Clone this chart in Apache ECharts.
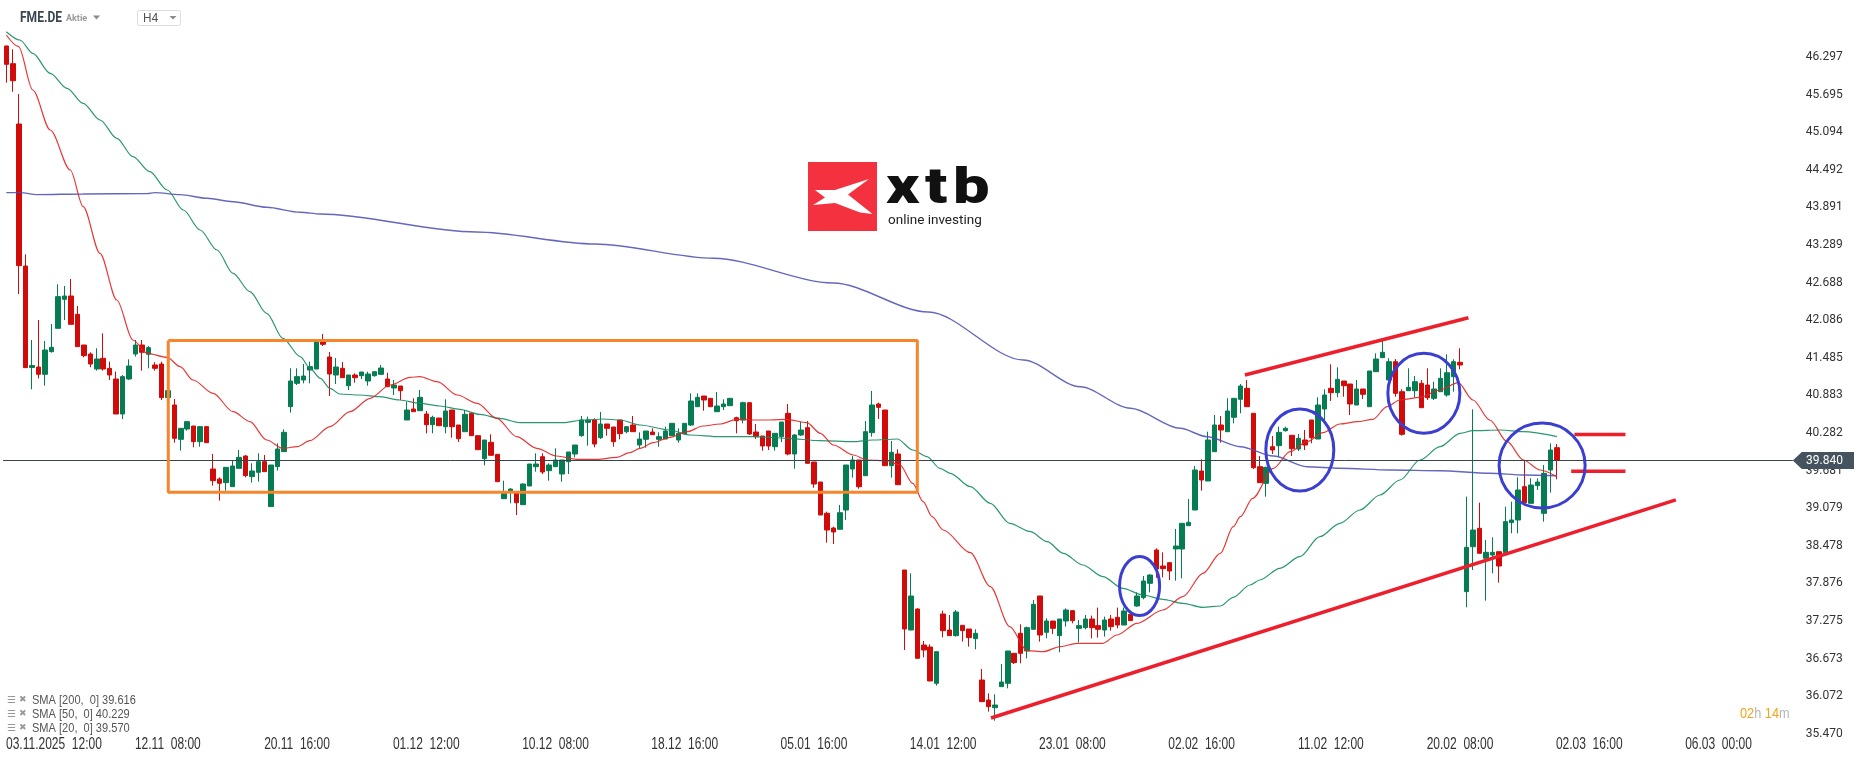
<!DOCTYPE html>
<html><head><meta charset="utf-8">
<script src="https://cdn.jsdelivr.net/npm/echarts@6/dist/echarts.min.js"></script>
<style>html,body{margin:0;padding:0;background:#fff;}#c{width:1866px;height:761px;}</style>
</head><body><div id="c"></div>
<script>
// ---------- DATA ----------
const opens = [46.473,46.19,45.225,42.953,41.33,41.337,41.22,41.583,41.956,42.42,42.473,42.18,41.689,41.545,41.305,41.476,41.316,41.145,40.585,41.145,41.545,41.689,41.54,41.369,41.385,40.847,40.729,40.18,40.345,40.393,40.143,40.383,39.705,39.545,39.487,39.423,39.716,39.913,39.583,39.652,39.823,39.103,39.743,39.983,40.703,41.076,41.129,41.289,41.305,41.737,41.497,41.209,41.316,41.038,41.209,41.198,41.113,41.198,41.22,41.145,41.001,41.033,40.489,40.665,40.638,40.585,40.414,40.521,40.382,40.649,40.409,40.302,40.596,40.238,39.87,40.132,39.94,39.23,39.342,39.332,39.134,39.433,39.742,39.902,39.678,39.742,39.625,39.822,39.945,40.238,40.452,40.489,40.206,40.425,40.377,40.489,40.302,40.409,40.089,40.18,40.297,40.18,40.185,40.238,40.169,40.265,40.409,40.702,40.873,40.836,40.622,40.702,40.718,40.526,40.489,40.766,40.297,40.233,40.313,40.062,40.222,40.596,39.945,40.249,40.366,39.817,39.497,38.996,38.761,38.74,39.049,39.705,39.849,39.598,40.286,40.745,40.649,39.758,39.945,38.089,37.129,37.465,36.889,36.857,36.276,37.385,37.129,37.039,37.204,37.145,36.991,36.329,36.009,35.886,36.223,36.276,36.756,37.076,36.793,37.14,37.673,37.092,37.273,37.039,37.273,37.439,37.156,37.167,37.305,37.199,37.129,37.305,37.332,37.209,37.38,37.513,37.647,37.876,38.409,38.153,38.207,38.425,38.425,38.798,39.049,39.673,39.513,39.982,40.409,40.302,40.532,40.82,40.996,40.596,39.742,39.476,40.062,40.078,40.318,40.244,40.025,40.169,40.489,40.185,40.665,40.996,40.926,41.113,41.065,40.729,40.985,40.702,41.262,41.487,41.129,41.422,40.942,40.958,40.958,41.076,41.049,40.836,40.942,40.889,41.182,41.412,37.743,38.462,38.756,38.276,38.329,38.382,38.366,38.847,38.889,39.422,39.156,39.439,38.996,39.689,40.046];
const closes = [46.18,45.918,42.959,41.327,41.36,41.22,41.609,41.652,42.463,42.473,42.02,41.663,41.519,41.385,41.465,41.305,41.209,40.585,41.183,41.353,41.689,41.572,41.647,41.316,40.847,40.959,40.196,40.356,40.463,40.143,40.383,40.126,39.519,39.476,39.732,39.753,39.892,39.599,39.673,39.823,39.663,39.769,40.025,40.292,41.113,41.183,41.193,41.343,41.742,41.7,41.225,41.337,41.166,41.209,41.166,41.257,41.225,41.262,41.321,41.022,41.049,40.958,40.649,40.622,40.852,40.414,40.532,40.398,40.633,40.382,40.19,40.58,40.238,40.014,40.169,39.924,39.502,39.316,39.385,39.166,39.465,39.785,39.785,39.657,39.769,39.849,39.849,39.977,40.089,40.489,40.489,40.105,40.425,40.356,40.142,40.27,40.382,40.302,40.185,40.313,40.254,40.222,40.313,40.436,40.276,40.436,40.793,40.852,40.809,40.702,40.713,40.745,40.836,40.478,40.766,40.265,40.222,40.073,40.073,40.276,40.457,39.945,40.249,40.329,39.796,39.465,38.969,38.729,38.697,39.006,39.769,39.849,39.422,40.302,40.729,40.692,39.758,39.972,39.454,37.145,37.673,36.676,36.809,36.313,36.782,37.119,37.039,37.417,37.119,37.007,37.076,35.983,35.903,35.929,36.297,36.793,36.607,36.756,37.167,37.54,37.049,37.273,37.156,37.305,37.449,37.279,37.199,37.305,37.167,37.14,37.289,37.183,37.209,37.433,37.279,37.673,37.913,38.009,38.105,38.111,38.073,38.473,38.836,38.852,39.689,39.529,40.169,40.409,40.329,40.633,40.836,41.033,40.702,39.726,39.486,39.732,40.009,40.292,40.356,40.03,40.196,40.089,40.206,40.729,40.889,40.926,41.14,41.038,40.745,40.985,40.9,41.273,41.465,41.572,41.422,40.916,40.26,41.012,41.102,40.686,40.846,40.985,41.156,41.246,41.422,41.369,38.452,38.729,38.356,38.372,38.372,38.153,38.863,38.889,39.369,39.166,39.449,39.497,39.636,40.009,39.84];
const lows = [45.886,45.742,42.505,41.32,40.98,41.156,41.039,41.567,41.956,42.089,42.02,41.663,41.492,41.332,41.279,41.279,41.129,40.585,40.505,41.129,41.503,41.279,41.316,41.279,40.809,40.84,40.126,39.999,40.318,40.052,40.063,40.126,39.439,39.199,39.359,39.423,39.716,39.572,39.487,39.503,39.663,39.103,39.679,39.983,40.607,41.049,41.076,41.076,41.305,41.673,40.873,41.065,41.166,40.969,41.086,41.145,41.038,41.182,41.209,41.022,40.889,40.809,40.489,40.622,40.638,40.276,40.276,40.398,40.276,40.206,40.137,40.302,40.238,40.014,39.764,39.924,39.502,39.23,39.156,38.969,39.134,39.433,39.663,39.625,39.518,39.742,39.502,39.625,39.892,40.222,40.078,40.052,40.185,40.238,40.062,40.18,40.276,40.302,40.036,40.046,40.254,40.062,40.185,40.238,40.126,40.265,40.393,40.702,40.638,40.702,40.622,40.649,40.718,40.276,40.436,40.249,40.185,39.998,40.009,39.998,40.137,39.924,39.71,40.233,39.796,39.406,38.969,38.526,38.505,38.74,38.889,39.566,39.39,39.598,40.222,40.505,39.758,39.566,39.454,36.809,37.129,36.676,36.692,36.313,36.239,37.012,37.039,37.023,36.943,36.863,36.82,35.983,35.823,35.679,36.223,36.196,36.585,36.596,36.676,37.14,36.943,36.996,37.065,36.772,37.183,37.236,36.932,37.14,36.996,37.007,37.023,37.119,37.156,37.209,37.279,37.502,37.62,37.732,37.966,37.972,37.929,37.919,37.956,38.798,39.049,39.359,39.513,39.982,40.126,40.302,40.436,40.596,40.702,39.705,39.486,39.262,39.945,39.902,40.302,39.913,39.993,40.009,40.116,40.185,40.489,40.793,40.852,40.862,40.569,40.729,40.825,40.702,41.262,41.487,41.129,40.862,40.238,40.958,40.852,40.686,40.809,40.809,40.942,40.862,40.942,41.3,37.492,38.089,38.356,37.599,38.036,37.887,38.366,38.676,38.676,39.166,39.156,39.369,38.862,39.327,39.54];
const highs = [46.48,46.42,45.705,43.14,41.769,42.089,41.753,42.025,42.66,42.633,42.745,42.313,41.689,41.572,41.636,41.876,41.423,41.263,41.209,41.46,41.769,41.769,41.673,41.412,41.423,40.97,40.825,40.36,40.463,40.393,40.393,40.393,39.945,39.572,39.732,39.839,40.009,39.929,39.796,39.956,39.929,39.769,40.116,40.34,41.316,41.316,41.385,41.423,41.742,41.865,41.577,41.481,41.417,41.209,41.236,41.257,41.262,41.262,41.369,41.246,41.129,41.033,40.782,40.836,40.969,40.633,40.558,40.521,40.82,40.649,40.409,40.649,40.596,40.238,40.169,40.26,39.94,39.518,39.396,39.332,39.476,39.785,39.956,39.956,39.796,40.036,39.849,39.977,40.089,40.553,40.542,40.516,40.617,40.425,40.377,40.489,40.393,40.553,40.292,40.313,40.356,40.292,40.382,40.436,40.356,40.436,40.916,40.916,40.873,40.836,40.937,40.82,40.836,40.542,40.782,40.766,40.425,40.233,40.313,40.276,40.457,40.745,40.265,40.462,40.473,39.817,39.497,39.022,38.782,39.129,39.769,39.913,39.849,40.473,40.953,40.766,40.649,40.153,40.02,38.089,38.036,37.476,36.953,36.9,36.782,37.439,37.369,37.449,37.204,37.145,37.14,36.505,36.116,36.1,36.585,36.793,36.756,37.22,37.183,37.609,37.673,37.316,37.273,37.305,37.476,37.449,37.289,37.369,37.359,37.487,37.343,37.369,37.487,37.487,37.396,37.732,37.993,38.02,38.436,38.372,38.207,38.745,38.836,39.225,39.753,39.86,40.302,40.569,40.553,40.836,40.836,41.065,41.129,40.596,39.913,39.742,40.233,40.382,40.382,40.244,40.265,40.329,40.489,40.852,40.98,41.38,41.332,41.113,41.065,41.129,40.985,41.273,41.556,41.758,41.476,41.465,40.98,41.316,41.193,41.129,41.316,41.102,41.316,41.54,41.46,41.636,39.263,40.66,39.166,38.569,38.612,38.382,39.102,39.182,39.572,39.849,39.556,39.556,39.769,40.116,40.105];

// moving averages: [candle index, value]
const sma20 = [[0,46.649],[1.9,46.462],[4.1,45.769],[6.8,45.129],[9.9,44.489],[11.9,43.902],[14.5,43.156],[17.1,42.409],[19.6,41.769],[21.8,41.556],[24.9,41.492],[26.9,41.343],[28.9,41.129],[32,40.916],[35.1,40.622],[37.7,40.463],[40.3,40.169],[42.8,40.036],[45,40.063],[47,40.158],[50.1,40.382],[53.2,40.622],[56.3,40.836],[59.4,41.049],[62.5,41.172],[64,41.182],[66.7,41.102],[69.8,40.889],[72.9,40.756],[75.9,40.516],[79,40.222],[82.1,40.036],[85.2,39.913],[88.3,39.86],[91.4,39.86],[94.5,39.892],[96.5,39.966],[98.1,40.036],[100.1,40.126],[102.7,40.212],[105.4,40.302],[107.8,40.393],[110.5,40.425],[113.1,40.5],[115.6,40.489],[118.2,40.489],[120.8,40.5],[123.9,40.446],[126,40.276],[128,40.089],[131.1,39.929],[133.2,39.849],[136.3,39.838],[138.3,39.769],[140.3,39.476],[141.9,39.182],[143.3,38.943],[145,38.729],[149.2,38.366],[152.3,37.823],[155.3,37.183],[158,36.799],[160.5,36.782],[163.1,36.863],[165.7,36.916],[169.7,36.916],[171.9,37.049],[175,37.236],[179,37.449],[182.1,37.663],[185.2,38.036],[187.9,38.356],[189.9,38.783],[191,38.942],[192.9,39.236],[196.1,39.716],[198.7,39.982],[201.3,40.142],[203.8,40.286],[206.4,40.425],[209.1,40.462],[211.5,40.5],[213.7,40.702],[215.7,40.809],[218.8,40.852],[221.9,40.969],[224.7,41.086],[227,40.809],[229.6,40.489],[232.3,40.142],[234.8,39.849],[237.4,39.689],[240,39.582]];
const sma50 = [[0,46.702],[2.1,46.569],[4.1,46.356],[6.8,46.036],[9.4,45.796],[11.9,45.556],[14.5,45.289],[17.1,44.996],[19.6,44.702],[22.2,44.462],[24.9,44.169],[27.4,43.849],[30,43.529],[32.6,43.209],[35.1,42.836],[37.7,42.542],[40.3,42.196],[42.8,41.796],[45.5,41.503],[47,41.316],[48.6,41.156],[50.1,40.996],[51.6,40.905],[54.7,40.889],[57.8,40.862],[60.9,40.809],[64,40.756],[67.1,40.713],[70.2,40.66],[73.3,40.58],[76.4,40.516],[79.5,40.446],[83.1,40.446],[86.2,40.446],[89.3,40.489],[92.4,40.505],[95,40.489],[98.1,40.409],[102.7,40.329],[105.8,40.249],[110.5,40.222],[115.6,40.222],[120.8,40.196],[126,40.158],[131.1,40.142],[134.1,40.169],[137.9,40.185],[140.3,40.009],[142.5,39.902],[144.5,39.716],[146.1,39.636],[149.2,39.422],[152.3,39.156],[155.3,38.836],[158.5,38.702],[161.1,38.542],[163.6,38.356],[166.6,38.169],[169.7,37.983],[172.8,37.796],[175.9,37.689],[179,37.62],[182.1,37.556],[185.2,37.492],[187.9,37.513],[189.9,37.652],[192.5,37.849],[194,37.929],[197.1,38.116],[200.2,38.302],[203.3,38.622],[206.4,38.836],[209.5,39.049],[212.6,39.289],[215.7,39.529],[218.8,39.849],[221.9,40.062],[225,40.276],[227,40.318],[231.2,40.329],[234.8,40.302],[240,40.222]];
const sma200 = [[0,44.127],[2.1,44.127],[4.8,44.095],[11.9,44.105],[21.8,44.111],[23,44.127],[26.9,44.095],[31.1,44.036],[35.1,43.982],[40.3,43.892],[45.5,43.812],[48.6,43.785],[72.7,43.497],[91.1,43.305],[109.5,43.076],[128,42.681],[142.7,42.217],[157.4,41.449],[166.2,41.022],[174,40.676],[181.7,40.356],[185.8,40.222],[191,40.062],[196.1,39.913],[201.3,39.742],[206.4,39.716],[214.2,39.689],[221.9,39.678],[229.6,39.636],[234.8,39.609],[240,39.598]];

// hand-drawn annotations in chart coordinates [candle index, price]
const rangeBox = [[25.07,41.761],[141.0,41.761],[141.0,39.332],[25.07,39.332],[25.07,41.761]];
const upperTrend = [[191.7,41.209],[226.3,42.124]];
const lowerTrend = [[152.4,35.721],[258.4,39.212]];
const levelHigh = [[242.7,40.259],[250.6,40.259]];
const levelLow = [[242.2,39.668],[250.6,39.668]];
// ellipses: [centre index, centre price, x radius (candles), y radius (price)]
const ellipses = [[175.4,37.833,3.1,0.472],[200.2,40.009,5.26,0.656],[219.4,40.916,5.57,0.64],[237.7,39.761,6.66,0.68]];

const yTicks = [35.470,36.072,36.673,37.275,37.876,38.478,39.079,39.681,40.282,40.883,41.485,42.086,42.688,43.289,43.891,44.492,45.094,45.695,46.297];
const xTickIndex = [5,25,45,65,85,105,125,145,165,185,205,225,245,265];
const xTickLabels = ['03.11.2025  12:00','12.11  08:00','20.11  16:00','01.12  12:00','10.12  08:00','18.12  16:00','05.01  16:00','14.01  12:00','23.01  08:00','02.02  16:00','11.02  12:00','20.02  08:00','02.03  16:00','06.03  00:00'];
const smaLegend = ['SMA [200,  0] 39.616','SMA [50,  0] 40.229','SMA [20,  0] 39.570'];
const lastPrice = 39.840;
const totalSlots = 277;

// ---------- BUILD ----------
const categories = [];
for (let i = 0; i < totalSlots; i++) categories.push(String(i));
const candles = opens.map((o, i) => [o, closes[i], lows[i], highs[i]]);

const UP = '#067c52', DOWN = '#d10a0a';
const yMin = 35.433, yMax = 47.049;

const chart = echarts.init(document.getElementById('c'), null, {renderer: 'canvas'});
const gridL = 3.07, gridR = 73.2, gridT = 10, gridB = 25;

const annLine = (data, color, w) => ({
  type: 'line', xAxisIndex: 1, yAxisIndex: 0, data: data, symbol: 'none', silent: true, z: 6,
  lineStyle: {color: color, width: w}, animation: false
});

const option = {
  animation: false,
  backgroundColor: '#ffffff',
  grid: {left: gridL, right: gridR, top: gridT, bottom: gridB, outerBoundsMode: 'none', containLabel: false},
  xAxis: [{
    type: 'category', data: categories, boundaryGap: true,
    axisLine: {show: false}, axisTick: {show: false}, splitLine: {show: false},
    axisLabel: {show: false}
  }, {
    type: 'value', min: -0.5, max: totalSlots - 0.5, show: false
  }],
  yAxis: [{
    type: 'value', position: 'right', min: yMin, max: yMax,
    axisLine: {show: false}, axisTick: {show: false}, splitLine: {show: false},
    axisLabel: {customValues: yTicks, formatter: (v) => v.toFixed(3), margin: 13,
      fontFamily: 'Roboto, sans-serif', fontSize: 12, color: '#333'}
  }],
  series: [
    {
      type: 'candlestick', data: candles, barWidth: 5, z: 2,
      itemStyle: {color: UP, color0: DOWN, borderColor: UP, borderColor0: DOWN, borderWidth: 1},
      markLine: {silent: true, symbol: ['none', 'none'], label: {show: false},
        lineStyle: {color: '#37434d', width: 1, type: 'solid'}, data: [{yAxis: lastPrice}]}
    },
    {type: 'line', name: 'SMA200', xAxisIndex: 1, data: sma200, symbol: 'none', smooth: 0.3, smoothMonotone: 'x', z: 3,
      lineStyle: {color: 'rgba(72,76,178,0.85)', width: 1.4}},
    {type: 'line', name: 'SMA50', xAxisIndex: 1, data: sma50, symbol: 'none', smooth: 0.3, smoothMonotone: 'x', z: 3,
      lineStyle: {color: 'rgba(20,140,96,0.9)', width: 1.2}},
    {type: 'line', name: 'SMA20', xAxisIndex: 1, data: sma20, symbol: 'none', smooth: 0.3, smoothMonotone: 'x', z: 3,
      lineStyle: {color: 'rgba(226,36,36,0.9)', width: 1.2}},
    annLine(rangeBox, '#f6852b', 3),
    annLine(upperTrend, '#ee1f2d', 3.5),
    annLine(lowerTrend, '#ee1f2d', 3.5),
    annLine(levelHigh, '#ee1f2d', 3.5),
    annLine(levelLow, '#ee1f2d', 3.5),
    {
      type: 'custom', xAxisIndex: 1, yAxisIndex: 0, data: ellipses, z: 7, silent: true,
      encode: {x: 0, y: 1},
      renderItem: (params, api) => {
        const c = api.coord([api.value(0), api.value(1)]);
        const s = api.size([api.value(2), api.value(3)]);
        return {type: 'ellipse', shape: {cx: c[0], cy: c[1], rx: s[0], ry: s[1]},
          style: {fill: 'none', stroke: '#3b3fcf', lineWidth: 3}};
      }
    },
    {
      // time-axis tick labels, placed by the category axis
      type: 'custom', xAxisIndex: 0, yAxisIndex: 0, silent: true, z: 8, clip: false,
      data: xTickIndex.map((k, j) => [k, yMin, j]),
      encode: {x: 0, y: 1},
      renderItem: (params, api) => {
        const p = api.coord([api.value(0), api.value(1)]);
        const j = api.value(2);
        const first = j === 0;
        return {type: 'text', x: first ? 6 : p[0], y: p[1] + 9, scaleX: 0.75,
          style: {text: xTickLabels[j], font: '16px "Liberation Sans", Arial, sans-serif', fill: '#333',
            align: first ? 'left' : 'center', verticalAlign: 'middle'}};
      }
    }
  ]
};
chart.setOption(option);

// ---------- decorations ----------
const py = chart.convertToPixel({yAxisIndex: 0}, lastPrice);
const gx = 1866 - gridR;
const narrowFont = (size, weight) => (weight || '') + ' ' + size + 'px "Liberation Sans", Arial, sans-serif';
const graphics = [
  // header
  {type: 'text', x: 20, y: 18, scaleX: 0.86, style: {text: 'FME.DE', font: 'bold 14px Roboto, sans-serif', fill: '#3b4550', verticalAlign: 'middle'}},
  {type: 'text', x: 66, y: 19, style: {text: 'Aktie', font: 'bold 9px Roboto, sans-serif', fill: '#9a9a9a', verticalAlign: 'middle'}},
  {type: 'polygon', shape: {points: [[93, 15.5], [100, 15.5], [96.5, 19.5]]}, style: {fill: '#8a8a8a'}},
  {type: 'rect', shape: {x: 137.5, y: 10.5, width: 43, height: 15, r: 2}, style: {fill: '#fff', stroke: '#dcdcdc', lineWidth: 1}},
  {type: 'text', x: 143, y: 19, style: {text: 'H4', font: '12px Roboto, sans-serif', fill: '#555', verticalAlign: 'middle'}},
  {type: 'polygon', shape: {points: [[169.5, 16], [176.5, 16], [173, 19.5]]}, style: {fill: '#8a8a8a'}},
  // logo
  {type: 'rect', shape: {x: 808, y: 162, width: 69, height: 69}, style: {fill: '#f4323f'}},
  {type: 'polygon', shape: {points: [[815, 190], [835, 190], [869, 179], [848, 194.5], [872.5, 214], [860, 212.5], [835, 203], [813, 205], [825, 197.5]]}, style: {fill: '#ffffff'}},
  {type: 'text', x: 886, y: 190, scaleX: 1.3, style: {text: 'x', font: '900 50px Roboto, sans-serif', fill: '#111', verticalAlign: 'middle'}},
  {type: 'text', x: 925, y: 190, scaleX: 1.3, style: {text: 't', font: '900 50px Roboto, sans-serif', fill: '#111', verticalAlign: 'middle'}},
  {type: 'text', x: 953, y: 190, scaleX: 1.3, style: {text: 'b', font: '900 50px Roboto, sans-serif', fill: '#111', verticalAlign: 'middle'}},
  {type: 'text', x: 888, y: 221, style: {text: 'online investing', font: '13.5px Roboto, sans-serif', fill: '#222', verticalAlign: 'middle'}},
  // price tag
  {type: 'polygon', z: 20, shape: {points: [[gx, py], [gx + 9, py - 8.5], [1854, py - 8.5], [1854, py + 8.5], [gx + 9, py + 8.5]]}, style: {fill: '#45535f'}},
  {type: 'text', z: 21, x: 1806, y: py, style: {text: lastPrice.toFixed(3), font: '12px Roboto, sans-serif', fill: '#fff', verticalAlign: 'middle'}},
  // countdown
  {type: 'text', x: 1740, y: 714, scaleX: 0.85, style: {text: '{o|02}{g|h }{o|14}{g|m}', verticalAlign: 'middle',
    rich: {o: {fill: '#f5a31a', font: narrowFont(15)}, g: {fill: '#b5b5b5', font: narrowFont(15)}}}}
];
smaLegend.forEach((t, j) => {
  const y = 700 + j * 14;
  graphics.push({type: 'text', x: 7, y: y, style: {text: '☰', font: '10px "DejaVu Sans", sans-serif', fill: '#999', verticalAlign: 'middle'}});
  graphics.push({type: 'text', x: 19, y: y, style: {text: '✖', font: '9px "DejaVu Sans", sans-serif', fill: '#999', verticalAlign: 'middle'}});
  graphics.push({type: 'text', x: 32, y: y, scaleX: 0.85, style: {text: t, font: narrowFont(13), fill: '#555', verticalAlign: 'middle'}});
});
chart.setOption({graphic: graphics});
</script>
</body></html>
